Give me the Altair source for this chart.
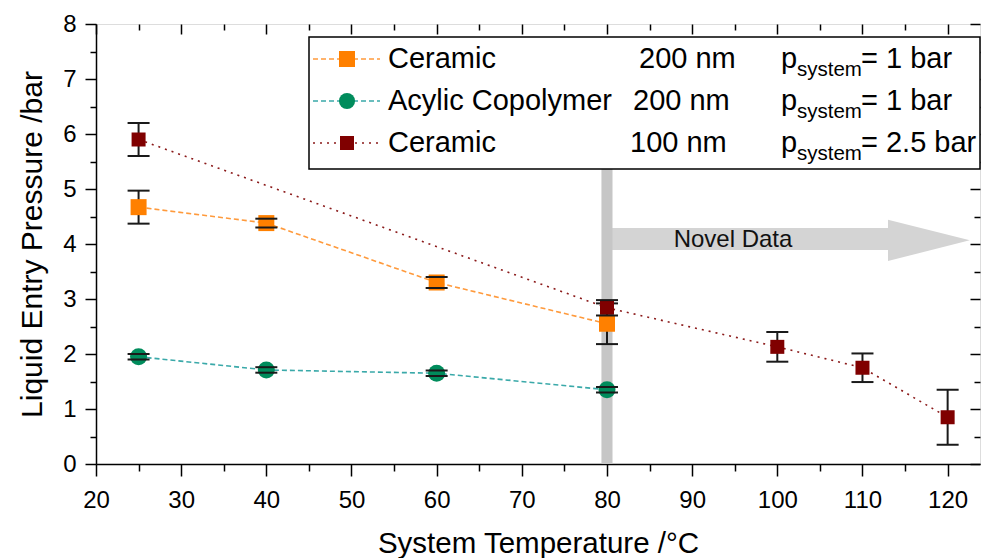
import altair as alt
import pandas as pd

# ---------------- data ----------------
temp_c200 = [25, 40, 60, 80]
lep_c200 = [4.67, 4.38, 3.30, 2.55]
err_c200 = [0.30, 0.08, 0.10, 0.37]

temp_acr = [25, 40, 60, 80]
lep_acr = [1.95, 1.71, 1.65, 1.35]
err_acr = [0.05, 0.05, 0.05, 0.05]

temp_c100 = [25, 80, 100, 110, 120]
lep_c100 = [5.90, 2.84, 2.13, 1.75, 0.85]
err_c100 = [0.30, 0.14, 0.27, 0.26, 0.50]

x_major = [20, 30, 40, 50, 60, 70, 80, 90, 100, 110, 120]
x_minor = [25, 35, 45, 55, 65, 75, 85, 95, 105, 115]
y_major = [0, 1, 2, 3, 4, 5, 6, 7, 8]
y_minor = [0.5, 1.5, 2.5, 3.5, 4.5, 5.5, 6.5, 7.5]

# annotations (data coordinates)
band_x = [79.35, 80.65]
band_y = [0, 7.75]
arrow_body_x = [80.0, 113.0]
arrow_body_y = [3.89, 4.29]
arrow_head_x = [113.0, 122.6]
arrow_head_top = [4.44, 4.07]
arrow_head_bot = [3.69, 4.07]
arrow_label = "Novel Data"
arrow_label_pos = [94.8, 3.95]

legend_names = ["Ceramic", "Acylic Copolymer", "Ceramic"]
legend_pores = ["200 nm", "200 nm", "100 nm"]
legend_press = ["= 1 bar", "= 1 bar", "= 2.5 bar"]

XDOM = [20, 123.8]
YDOM = [0, 8]
FONT = "Liberation Sans"

C_OR, C_OR_L = "#ff8000", "#ff9a3c"
C_GR, C_GR_L = "#008c5c", "#3aa9a9"
C_DR, C_DR_L = "#800000", "#8b1a1a"


def df(t, v, e):
    return pd.DataFrame({"t": t, "v": v,
                         "lo": [a - b for a, b in zip(v, e)],
                         "hi": [a + b for a, b in zip(v, e)]})


d_c200 = df(temp_c200, lep_c200, err_c200)
d_acr = df(temp_acr, lep_acr, err_acr)
d_c100 = df(temp_c100, lep_c100, err_c100)
d_all = pd.concat([d_c200, d_acr, d_c100])
one = pd.DataFrame({"k": [0]})

xs = alt.Scale(domain=XDOM, nice=False, zero=False)
ys = alt.Scale(domain=YDOM, nice=False, zero=False)


def X(f, axis=None):
    return alt.X(f, type="quantitative", scale=xs, axis=axis)


def Y(f, axis=None):
    return alt.Y(f, type="quantitative", scale=ys, axis=axis)


common = dict(grid=False, tickColor="black", tickWidth=1.5, labelFlush=False,
              labelOverlap=False)

ax_bottom = alt.Axis(orient="bottom", values=x_major, tickSize=12, domain=True,
                     domainColor="black", domainWidth=1.5, labelFont=FONT,
                     labelFontSize=24, labelColor="black", labelPadding=12,
                     title="System Temperature /°C", titleFont=FONT,
                     titleFontSize=29.5, titleFontWeight="normal", titleColor="black",
                     titlePadding=17, **common)
ax_left = alt.Axis(orient="left", values=y_major, tickSize=11, domain=True,
                   domainColor="black", domainWidth=1.5, labelFont=FONT,
                   labelFontSize=24, labelColor="black", labelPadding=9,
                   title="Liquid Entry Pressure /bar", titleFont=FONT,
                   titleFontSize=30, titleFontWeight="normal", titleColor="black",
                   titlePadding=15, **common)
ax_bottom_minor = alt.Axis(orient="bottom", values=x_minor, tickSize=7, domain=False,
                           labels=False, title=None, **common)
ax_left_minor = alt.Axis(orient="left", values=y_minor, tickSize=6, domain=False,
                         labels=False, title=None, **common)
ax_top = alt.Axis(orient="top", values=x_major, tickSize=10, offset=-10, domain=False,
                  labels=False, title=None, **common)
ax_right = alt.Axis(orient="right", values=y_major, tickSize=10, offset=-10, domain=False,
                    labels=False, title=None, **common)
ax_top_minor = alt.Axis(orient="top", values=x_minor, tickSize=6, offset=-6, domain=False,
                        labels=False, title=None, **common)
ax_right_minor = alt.Axis(orient="right", values=y_minor, tickSize=6, offset=-6, domain=False,
                          labels=False, title=None, **common)

axis_layers = []
for ax_x, ax_y in [(ax_bottom, ax_left), (ax_bottom_minor, ax_left_minor),
                   (ax_top, ax_right), (ax_top_minor, ax_right_minor)]:
    axis_layers.append(alt.Chart(d_all).mark_point(opacity=0).encode(
        x=X("t", ax_x), y=Y("v", ax_y)))

# arrow + band
d_body = pd.DataFrame({"x": [arrow_body_x[0]], "x2": [arrow_body_x[1]],
                       "y": [arrow_body_y[0]], "y2": [arrow_body_y[1]]})
body = alt.Chart(d_body).mark_rect(color="#d4d4d4").encode(
    x=X("x"), x2="x2", y=Y("y"), y2="y2")
d_head = pd.DataFrame({"x": arrow_head_x, "top": arrow_head_top, "bot": arrow_head_bot})
head = alt.Chart(d_head).mark_area(color="#d4d4d4", opacity=1).encode(
    x=X("x"), y=Y("top"), y2="bot")
d_band = pd.DataFrame({"x": [band_x[0]], "x2": [band_x[1]],
                       "y": [band_y[0]], "y2": [band_y[1]]})
band = alt.Chart(d_band).mark_rect(color="#c6c6c6").encode(
    x=X("x"), x2="x2", y=Y("y"), y2="y2")
d_lab = pd.DataFrame({"x": [arrow_label_pos[0]], "y": [arrow_label_pos[1]],
                      "s": [arrow_label]})
novel = alt.Chart(d_lab).mark_text(font=FONT, fontSize=24, color="#111111",
                                   align="center", baseline="alphabetic").encode(
    x=X("x"), y=Y("y"), text="s:N")


def series(d, marker_color, line_color, dash, shape, size):
    line = alt.Chart(d).mark_line(color=line_color, strokeDash=dash, strokeWidth=1.6).encode(
        x=X("t"), y=Y("v"))
    err = alt.Chart(d).mark_rule(color="#1a1a1a", strokeWidth=2).encode(
        x=X("t"), y=Y("lo"), y2="hi")
    if shape == "circle":
        pts = alt.Chart(d).mark_circle(color=marker_color, size=size, opacity=1).encode(
            x=X("t"), y=Y("v"))
    else:
        pts = alt.Chart(d).mark_point(shape=shape, filled=True, color=marker_color,
                                      size=size, opacity=1).encode(x=X("t"), y=Y("v"))
    caps = []
    for f in ["lo", "hi"]:
        caps.append(alt.Chart(d).mark_rule(color="#1a1a1a", strokeWidth=2,
                                           xOffset=-11, x2Offset=11).encode(
            x=X("t"), x2="t", y=Y(f)))
    return [line, err, pts] + caps


data_layers = []
data_layers += series(d_c200, C_OR, C_OR_L, [5, 3], "square", 256)
data_layers += series(d_acr, C_GR, C_GR_L, [5, 3], "circle", 290)
data_layers += series(d_c100, C_DR, C_DR_L, [2, 5], "square", 196)

# ---------------- manual legend (pixel positions inside the plot area) ----------------
legend_layers = [alt.Chart(one).mark_rect(fill="white", stroke="black", strokeWidth=1.5).encode(
    x=alt.value(213), x2=alt.value(884), y=alt.value(13), y2=alt.value(145))]

row_center = [35, 77, 119]
row_base = [44, 86, 128]
pore_x = [543, 537, 534]
styles = [(C_OR, C_OR_L, [5, 3], "square", 256),
          (C_GR, C_GR_L, [5, 3], "circle", 260),
          (C_DR, C_DR_L, [2, 5], "square", 196)]
for i in range(3):
    mc, lc, dash, shape, size = styles[i]
    legend_layers.append(alt.Chart(one).mark_rule(color=lc, strokeDash=dash, strokeWidth=1.6).encode(
        x=alt.value(217), x2=alt.value(284), y=alt.value(row_center[i])))
    if shape == "circle":
        legend_layers.append(alt.Chart(one).mark_circle(color=mc, size=size, opacity=1).encode(
            x=alt.value(251), y=alt.value(row_center[i])))
    else:
        legend_layers.append(alt.Chart(one).mark_point(shape=shape, filled=True, color=mc,
                                                       size=size, opacity=1).encode(
            x=alt.value(251), y=alt.value(row_center[i])))
    txt = dict(font=FONT, color="black", align="left", baseline="alphabetic")
    legend_layers.append(alt.Chart(one).mark_text(fontSize=29, **txt).encode(
        x=alt.value(292), y=alt.value(row_base[i]), text=alt.value(legend_names[i])))
    legend_layers.append(alt.Chart(one).mark_text(fontSize=29, **txt).encode(
        x=alt.value(pore_x[i]), y=alt.value(row_base[i]), text=alt.value(legend_pores[i])))
    legend_layers.append(alt.Chart(one).mark_text(fontSize=29, **txt).encode(
        x=alt.value(685), y=alt.value(row_base[i]), text=alt.value("p")))
    legend_layers.append(alt.Chart(one).mark_text(fontSize=20.5, **txt).encode(
        x=alt.value(701), y=alt.value(row_base[i] + 8), text=alt.value("system")))
    legend_layers.append(alt.Chart(one).mark_text(fontSize=29, **txt).encode(
        x=alt.value(765), y=alt.value(row_base[i]), text=alt.value(legend_press[i])))

chart = alt.layer(*(axis_layers + [body, head, band, novel] + data_layers + legend_layers)).resolve_axis(
    x="independent", y="independent"
).properties(
    width=884, height=440,
    autosize=alt.AutoSizeParams(type="none"),
    padding={"left": 96, "top": 24, "right": 1, "bottom": 94},
).configure_view(stroke="black", strokeWidth=1.5).configure(background="white")

chart.save("out.html", embed_options={"renderer": "svg", "actions": False})
